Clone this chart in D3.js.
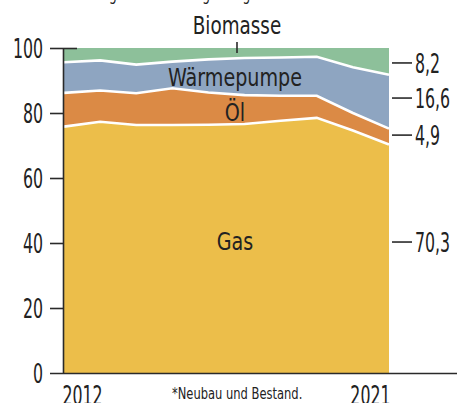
<!DOCTYPE html>
<html>
<head>
<meta charset="utf-8">
<script src="https://cdn.jsdelivr.net/npm/d3@7"></script>
<style>
  html, body { margin: 0; padding: 0; background: #fff; }
  svg { display: block; }
  text { font-family: "Liberation Sans Narrow", "DejaVu Sans Condensed", "Roboto", sans-serif; fill: #222; }
</style>
</head>
<body>
<svg id="chart" width="457" height="403"></svg>
<script>
// Anteile neuer Heizungsanlagen in %
const years = [2012, 2013, 2014, 2015, 2016, 2017, 2018, 2019, 2020, 2021];
const gas = [75.8, 77.3, 76.3, 76.3, 76.4, 76.6, 77.6, 78.5, 74.6, 70.3];
const oel = [10.4, 9.6, 9.8, 11.3, 9.9, 8.9, 7.7, 6.8, 5.4, 4.9];
const waermepumpe = [9.4, 9.3, 8.8, 8.2, 10.2, 11.4, 11.8, 12.0, 14.1, 16.6];
const biomasse = [4.4, 3.8, 5.1, 4.2, 3.5, 3.1, 2.9, 2.7, 5.9, 8.2];

const keys = ['Gas', 'Öl', 'Wärmepumpe', 'Biomasse'];
const endLabels = ['70,3', '4,9', '16,6', '8,2'];
const yTicks = [0, 20, 40, 60, 80, 100];
const xTicks = [2012, 2021];

const colors = {
  'Gas': '#ecbe4a',
  'Öl': '#db8a45',
  'Wärmepumpe': '#8ea5c1',
  'Biomasse': '#8dc09a',
};

const svg = d3.select('#chart');
const width = 457;
const axisX = 63;
const numScale = 0.65; // condensed digits
const wordScale = 0.85; // condensed words

const x = d3.scaleLinear().domain([2012, 2021]).range([64, 389]);
const y = d3.scaleLinear().domain([0, 100]).range([373, 48]);

const rows = years.map((year, i) => ({
  year,
  'Gas': gas[i],
  'Öl': oel[i],
  'Wärmepumpe': waermepumpe[i],
  'Biomasse': biomasse[i],
}));

const series = d3.stack().keys(keys)(rows);

// squeezed text: position with translate, then scale horizontally
function squeezed(parent, px, py, str, size, k, anchor) {
  return parent.append('text')
    .attr('transform', `translate(${px},${py}) scale(${k},1)`)
    .attr('text-anchor', anchor || 'start')
    .attr('font-size', size)
    .text(str);
}

// title line, cut off at the top
squeezed(svg, 8, 0, 'Marktentwicklung neuer Heizungsanlagen in %*', 17, 0.8)
  .attr('fill', '#666');

const area = d3.area()
  .x((d) => x(d.data.year))
  .y0((d) => y(d[0]))
  .y1((d) => y(d[1]));

svg.append('g')
  .selectAll('path')
  .data(series)
  .join('path')
  .attr('fill', (s) => colors[s.key])
  .attr('d', area);

// white separators between layers
const topLine = d3.line()
  .x((d) => x(d.data.year))
  .y((d) => y(d[1]));

svg.append('g')
  .selectAll('path')
  .data(series.slice(0, 3))
  .join('path')
  .attr('fill', 'none')
  .attr('stroke', '#fff')
  .attr('stroke-width', 2.6)
  .attr('d', topLine);

// y axis
const yAxis = svg.append('g')
  .attr('transform', `translate(${axisX},0)`)
  .call(d3.axisLeft(y).tickValues(yTicks).tickSize(13).tickSizeOuter(0).tickPadding(7));

yAxis.select('.domain').attr('stroke', '#2a2a2a').attr('stroke-width', 1.6);
yAxis.selectAll('.tick line').attr('stroke', '#2a2a2a').attr('stroke-width', 1.6);
yAxis.selectAll('.tick')
  .filter((d) => d === 100)
  .select('line')
  .attr('x1', 14);
yAxis.selectAll('.tick')
  .filter((d) => d === 0)
  .select('line')
  .attr('x1', width - axisX);
yAxis.selectAll('.tick text')
  .attr('font-size', 27)
  .attr('font-family', '"Liberation Sans Narrow", "DejaVu Sans Condensed", sans-serif')
  .attr('fill', '#222')
  .attr('x', -20 / numScale)
  .attr('dy', '0.36em')
  .attr('transform', `scale(${numScale},1)`);

// x axis
const xAxis = svg.append('g')
  .attr('transform', `translate(0,${y(0)})`)
  .call(d3.axisBottom(x).tickValues(xTicks).tickSize(0).tickPadding(0).tickFormat(d3.format('d')));

xAxis.select('.domain').remove();
xAxis.selectAll('.tick text')
  .attr('font-size', 27)
  .attr('font-family', '"Liberation Sans Narrow", "DejaVu Sans Condensed", sans-serif')
  .attr('fill', '#222')
  .attr('y', 32)
  .attr('dy', 0)
  .attr('text-anchor', (d) => (d === 2012 ? 'start' : 'end'))
  .attr('x', (d) => (d === 2012 ? -2 / numScale : 1 / numScale))
  .attr('transform', `scale(${numScale},1)`);

// series names inside the chart
const nameLabels = [
  { key: 'Gas', value: 40.3 },
  { key: 'Öl', value: 80 },
  { key: 'Wärmepumpe', value: 90.8 },
];

nameLabels.forEach((d) => {
  squeezed(svg, 235, y(d.value) + 8, d.key, 25, wordScale, 'middle');
});

// Biomasse above the chart with a leader
squeezed(svg, 237, 34, 'Biomasse', 24, wordScale, 'middle');

svg.append('line')
  .attr('x1', 237).attr('x2', 237)
  .attr('y1', 42).attr('y2', 53)
  .attr('stroke', '#2a2a2a')
  .attr('stroke-width', 1.6);

// end values at 2021
const endPos = [40.3, 73.2, 84.6, 95.4];

keys.forEach((key, i) => {
  const g = svg.append('g').attr('transform', `translate(0,${y(endPos[i])})`);
  g.append('line')
    .attr('x1', 392).attr('x2', 412)
    .attr('stroke', '#2a2a2a')
    .attr('stroke-width', 1.6);
  squeezed(g, 415, 0, endLabels[i], 27, numScale).attr('dy', '0.36em');
});

// footnote
squeezed(svg, 172, 399, '*Neubau und Bestand.', 16, 0.8);
</script>
</body>
</html>
